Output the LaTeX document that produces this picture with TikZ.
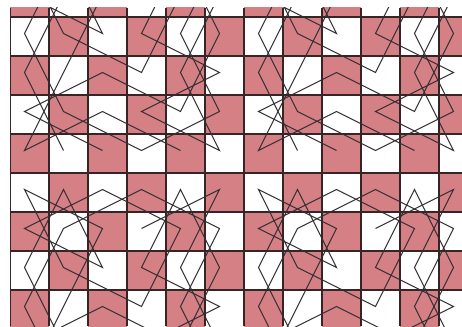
\documentclass[tikz,border=0pt]{standalone}
\usepackage{tikz}

\definecolor{checkpink}{RGB}{212,128,132}
\definecolor{gridline}{RGB}{55,36,36}
\definecolor{tourline}{RGB}{50,46,50}

\begin{document}
\begin{tikzpicture}[x=1pt, y=-1pt,
    cell/.style={fill=checkpink},
    grid/.style={draw=gridline, line width=1.7pt},
    tour/.style={draw=tourline, line width=1.05pt, line join=miter}]

    \useasboundingbox (0,0) rectangle (462,326);
    \fill[white] (0,0) rectangle (462,326);

    % board
    \begin{scope}
      \clip (10,8) rectangle (462,326);
      \foreach \c in {0,...,11}
        \foreach \r in {0,...,8} {
          \pgfmathtruncatemacro{\parity}{mod(\c+\r,2)}
          \ifnum\parity=0
            \fill[cell] (10+39*\c,39*\r-22) rectangle ++(39,39);
          \fi
        }
      \foreach \c in {0,...,11}
        \draw[grid] (10+39*\c,8) -- (10+39*\c,326);
      \foreach \r in {0,...,7}
        \draw[grid] (10,17+39*\r) -- (462,17+39*\r);
    \end{scope}

    % knight paths, repeated every 6 cells
    \begin{scope}
      \clip (10,8) rectangle (462,326);
      \foreach \m in {0,1}
        \foreach \n in {0,1} {
          \begin{scope}[shift={(24.5+234*\m,-44.5+234*\n)}, x=39pt, y=-39pt]
            \draw[tour] (1,5) -- (0,3) -- (1,1) -- (3,0) -- (5,1) -- (4,3)
              -- (5,5) -- (3,4) -- (5,3) -- (3,2) -- (4,0) -- (5,2)
              -- (4,4) -- (2,3) -- (0,4) -- (2,5);
            \draw[tour] (3,1) -- (5,0) -- (4,2) -- (5,4) -- (3,5) -- (1,4)
              -- (0,2) -- (1,0) -- (2,2) -- (0,1) -- (2,0) -- (4,1)
              -- (3,3) -- (1,2) -- (0,0) -- (2,1) -- (1,3) -- (0,5)
              -- (2,4) -- (4,5);
          \end{scope}
        }
    \end{scope}
\end{tikzpicture}
\end{document}
